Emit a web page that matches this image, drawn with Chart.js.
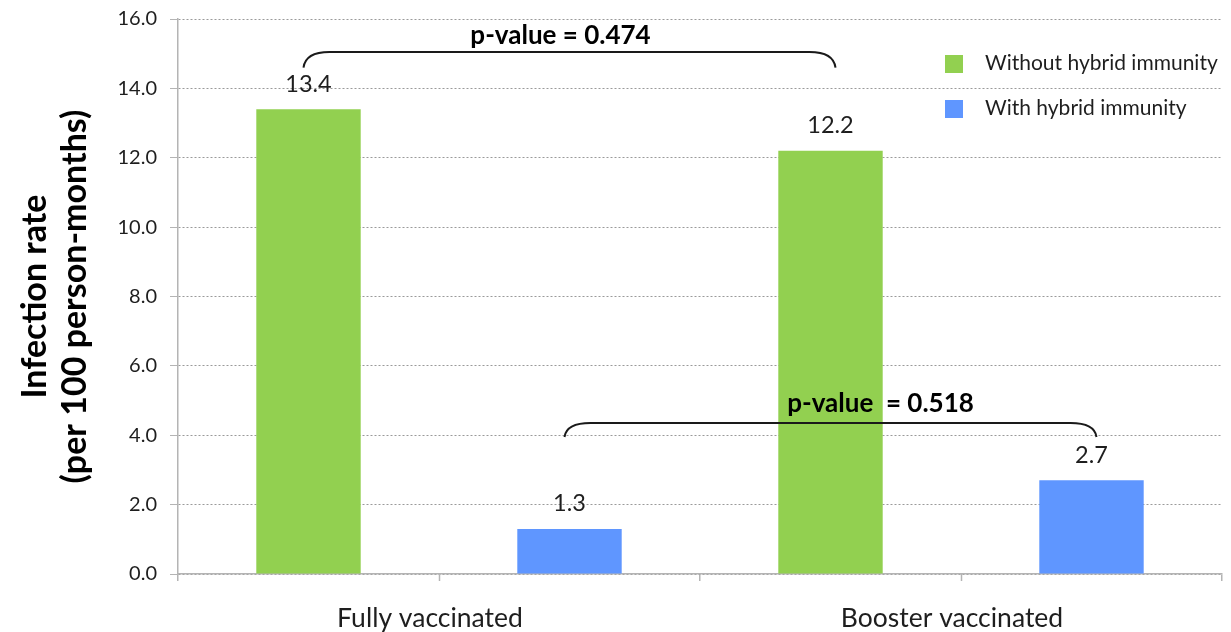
<!DOCTYPE html>
<html>
<head>
<meta charset="utf-8">
<title>Infection rate by hybrid immunity</title>
<script src="https://cdn.jsdelivr.net/npm/chart.js@4.4.1/dist/chart.umd.min.js"></script>
<style>
  html, body { margin:0; padding:0; background:#fff; }
</style>
</head>
<body>
<canvas id="rateChart" width="1231" height="632"></canvas>
<script>
/* ── Data ── */
const GROUPS        = ['Fully vaccinated', 'Booster vaccinated'];
const SERIES_NAMES  = ['Without hybrid immunity', 'With hybrid immunity'];
const WITHOUT_HYBRID = [13.4, 12.2];
const WITH_HYBRID    = [1.3, 2.7];
const Y_TICKS        = [0, 2, 4, 6, 8, 10, 12, 14, 16];
const Y_TITLE        = ['Infection rate', '(per 100 person-months)'];

/* ── Comparisons (bracket between the two bars of one series) ── */
const P_LABELS    = ['p-value = 0.474', 'p-value  = 0.518'];
const P_SERIES    = [0, 1];
const P_END_LEVEL = [14.6, 3.95];
const P_TOP_LEVEL = [15.05, 4.35];

/* ── Styles ── */
const COLORS   = ['#92D050', '#5F96FF'];
const AXIS_CLR = '#B4B4B4';
const GRID_CLR = '#9A9A9A';
const TEXT_CLR = '#1E1E1E';
const FONT     = 'Lato, "Open Sans", sans-serif';
const P_TEXT_DX = [-9, 50];
const P_TEXT_DY = [16, 20];

const overlay = {
  id: 'overlay',
  afterDatasetsDraw(chart) {
    const ctx = chart.ctx, xs = chart.scales.x, ys = chart.scales.y;
    ctx.save();

    // extra tick marks at group centres
    ctx.strokeStyle = AXIS_CLR; ctx.lineWidth = 1.5;
    GROUPS.forEach((g, i) => {
      const x = Math.round(xs.getPixelForValue(i)) + 0.5;
      ctx.beginPath(); ctx.moveTo(x, ys.bottom); ctx.lineTo(x, ys.bottom + 7); ctx.stroke();
    });

    // value labels
    ctx.fillStyle = TEXT_CLR; ctx.font = '23.5px ' + FONT;
    ctx.textAlign = 'center'; ctx.textBaseline = 'middle';
    chart.data.datasets.forEach((ds, di) => {
      chart.getDatasetMeta(di).data.forEach((bar, i) => {
        ctx.fillText(ds.data[i].toFixed(1), bar.x, bar.y - 25);
      });
    });

    // brackets + p-values
    P_LABELS.forEach((lbl, k) => {
      const meta = chart.getDatasetMeta(P_SERIES[k]);
      const x1 = meta.data[0].x - 5, x2 = meta.data[1].x + 5;
      const yEnd = ys.getPixelForValue(P_END_LEVEL[k]);
      const yTop = ys.getPixelForValue(P_TOP_LEVEL[k]);
      ctx.strokeStyle = '#1A1A1A'; ctx.lineWidth = 2;
      ctx.beginPath();
      ctx.moveTo(x1, yEnd);
      ctx.quadraticCurveTo(x1 + 2, yTop, x1 + 26, yTop);
      ctx.lineTo(x2 - 26, yTop);
      ctx.quadraticCurveTo(x2 - 2, yTop, x2, yEnd);
      ctx.stroke();
      ctx.font = 'bold 26px ' + FONT;
      ctx.fillStyle = '#000';
      ctx.fillText(lbl, (x1 + x2) / 2 + P_TEXT_DX[k], yTop - P_TEXT_DY[k]);
    });

    // legend
    ctx.font = '21px ' + FONT; ctx.textAlign = 'left';
    SERIES_NAMES.forEach((name, i) => {
      const y = 55 + i * 45;
      ctx.fillStyle = COLORS[i];
      ctx.fillRect(945, y, 18, 18);
      ctx.fillStyle = TEXT_CLR;
      ctx.fillText(name, 985, y + 8);
    });

    // y-axis title
    ctx.translate(0, (ys.top + ys.bottom) / 2);
    ctx.rotate(-Math.PI / 2);
    ctx.font = 'bold 34px ' + FONT; ctx.fillStyle = '#000'; ctx.textAlign = 'center';
    Y_TITLE.forEach((t, i) => ctx.fillText(t, 0, 35 + i * 40));
    ctx.restore();
  }
};

new Chart(document.getElementById('rateChart'), {
  type: 'bar',
  data: {
    labels: GROUPS,
    datasets: [
      { label: SERIES_NAMES[0], data: WITHOUT_HYBRID, backgroundColor: COLORS[0], barPercentage: 0.4, categoryPercentage: 1 },
      { label: SERIES_NAMES[1], data: WITH_HYBRID,    backgroundColor: COLORS[1], barPercentage: 0.4, categoryPercentage: 1 },
    ]
  },
  options: {
    responsive: false, animation: false,
    layout: { padding: { top: 19, right: 9, left: 0, bottom: 0 } },
    plugins: { legend: { display: false }, tooltip: { enabled: false } },
    scales: {
      x: {
        offset: true,
        grid: { offset: true, drawOnChartArea: false, drawTicks: true, tickLength: 7, color: AXIS_CLR, lineWidth: 1.5 },
        border: { color: AXIS_CLR, width: 1.5 },
        ticks: { color: TEXT_CLR, font: { family: FONT, size: 26.5 }, padding: 22, labelOffset: -9 },
        afterFit: s => { s.height = 58; }
      },
      y: {
        min: Y_TICKS[0], max: Y_TICKS[Y_TICKS.length - 1],
        afterBuildTicks: s => { s.ticks = Y_TICKS.map(v => ({ value: v })); },
        grid: { color: GRID_CLR, lineWidth: 1, tickLength: 8, tickColor: AXIS_CLR, tickBorderDash: [] },
        border: { color: AXIS_CLR, width: 1.5, dash: [2, 2] },
        ticks: { color: TEXT_CLR, font: { family: FONT, size: 20 }, padding: 13, callback: v => v.toFixed(1) },
        afterFit: s => { s.width = 178; s.paddingTop = 0; s.paddingBottom = 0; }
      }
    }
  },
  plugins: [overlay]
});
</script>
</body>
</html>
